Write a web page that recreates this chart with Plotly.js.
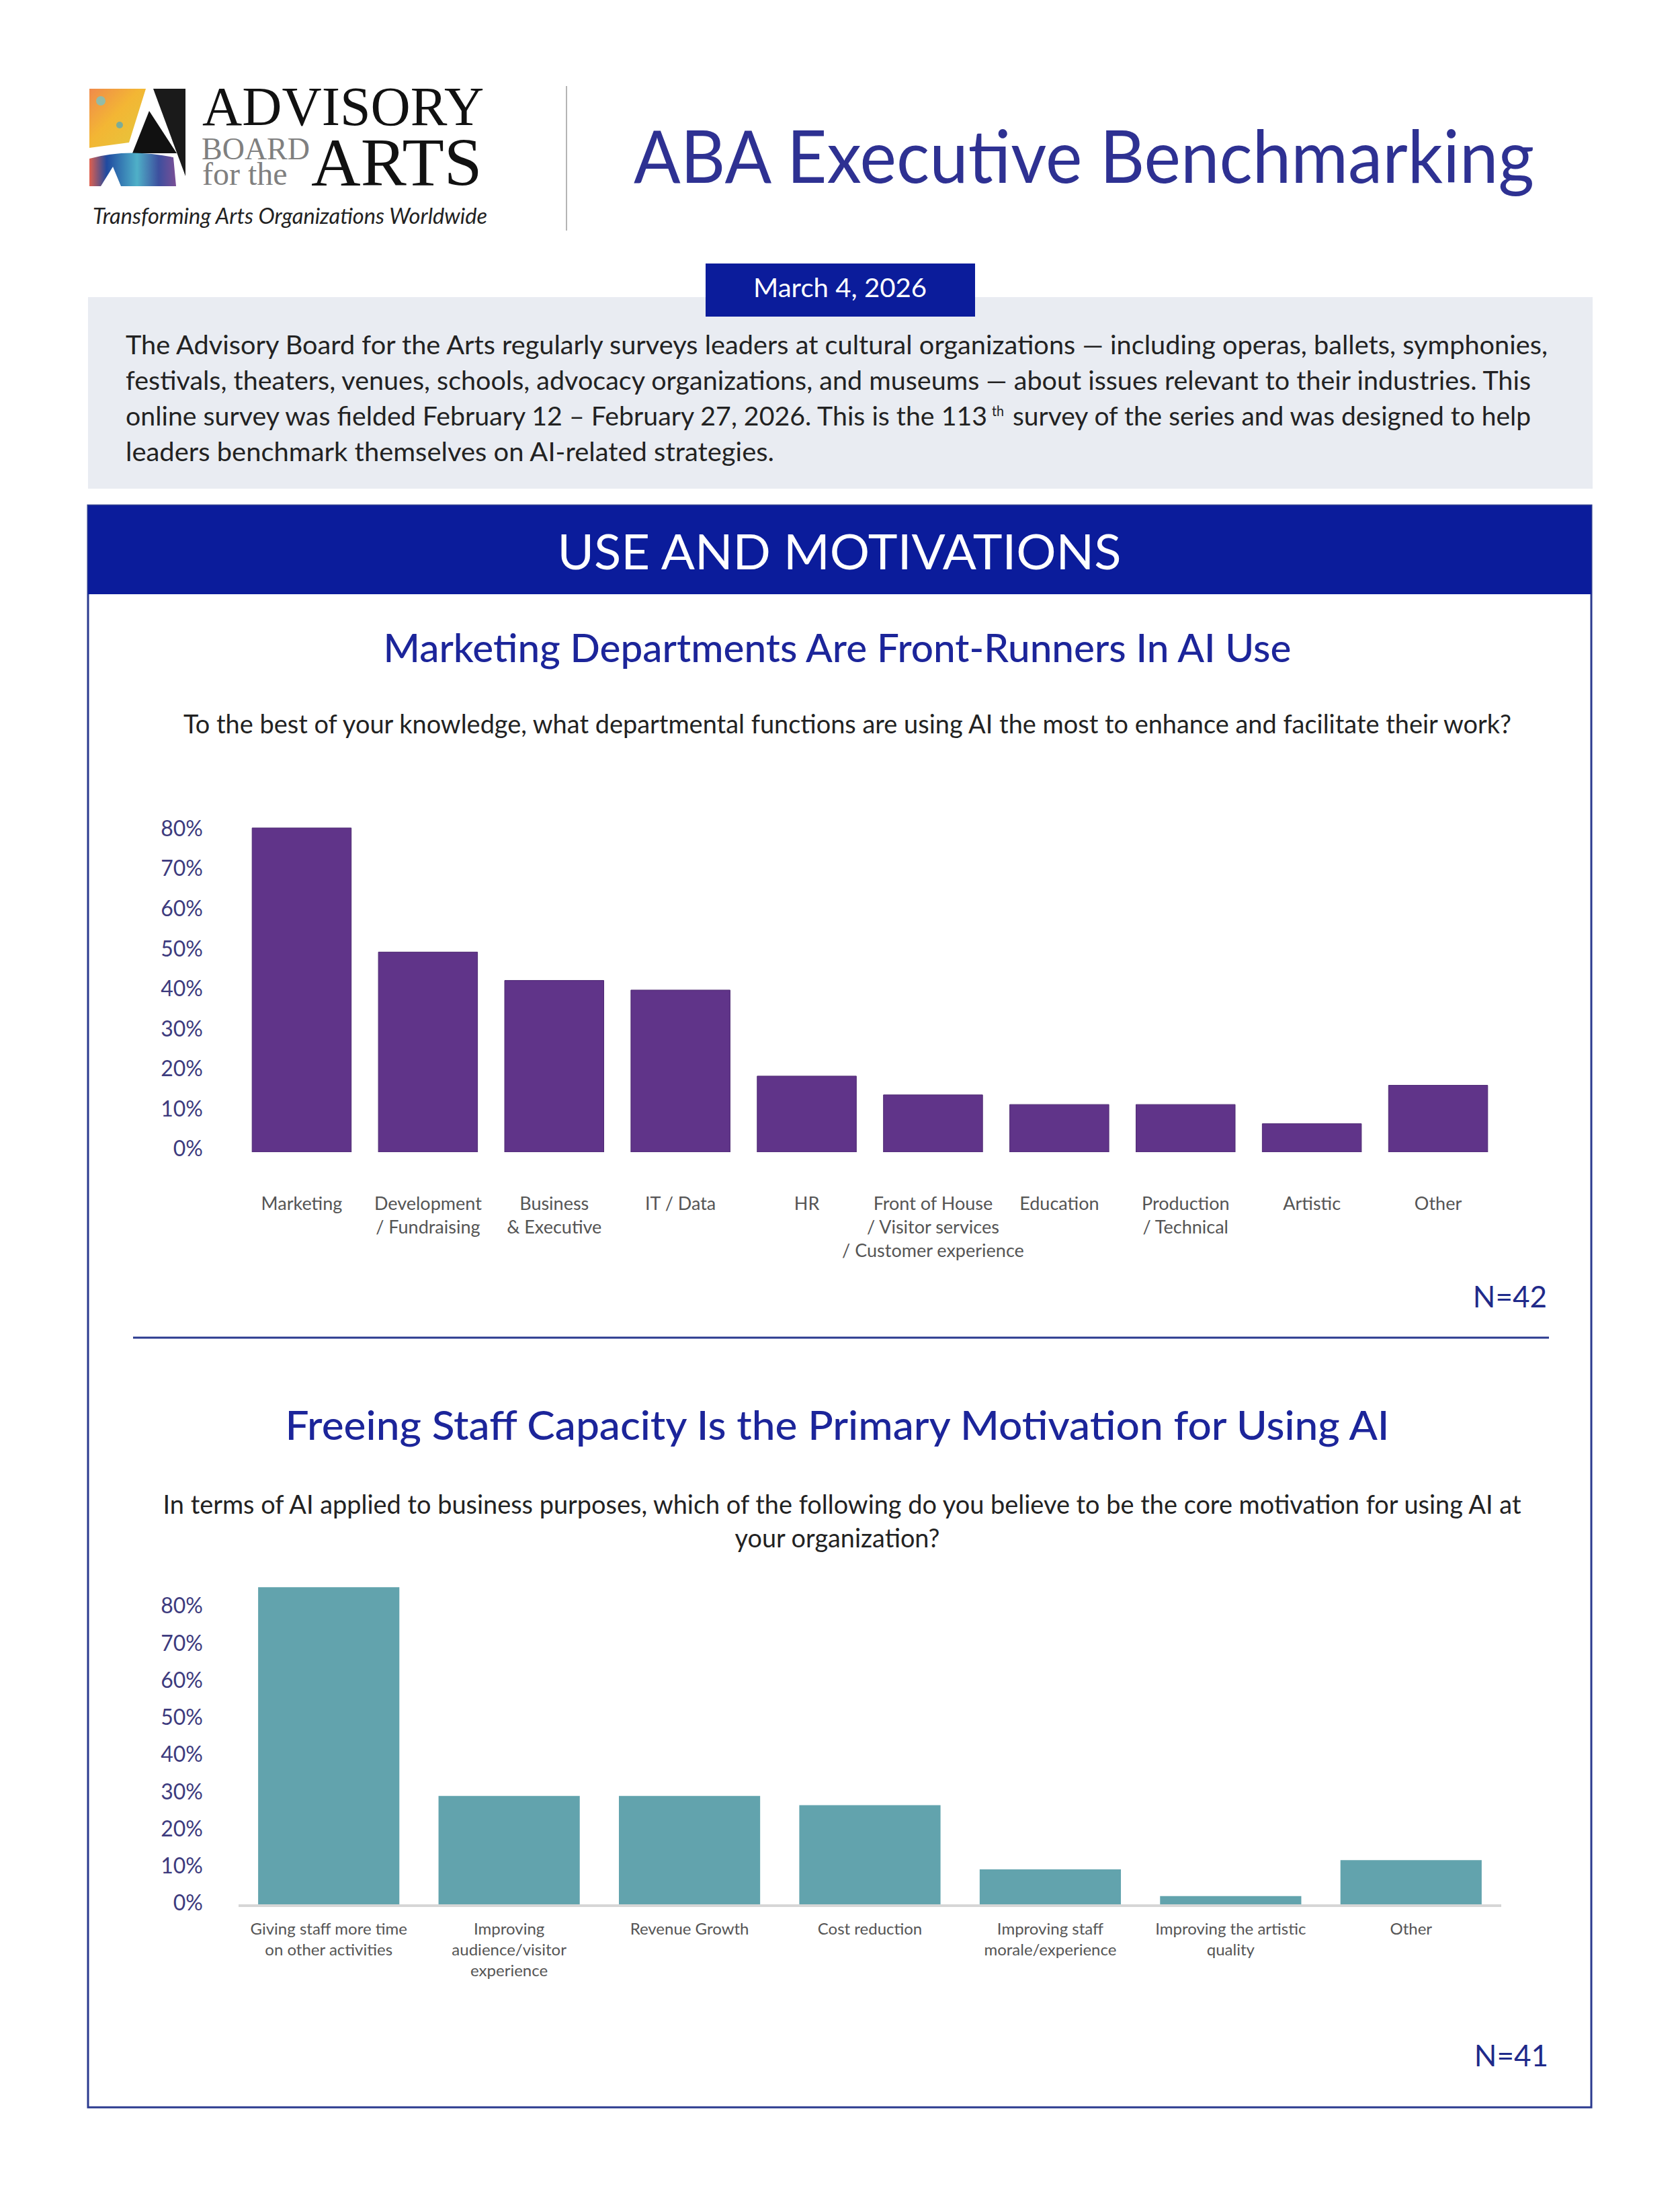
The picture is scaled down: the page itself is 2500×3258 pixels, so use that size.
<!DOCTYPE html>
<html>
<head>
<meta charset="utf-8">
<script src="https://cdn.plot.ly/plotly-3.0.1.min.js"></script>
<style>
  html, body { margin: 0; padding: 0; background: #ffffff; }
  #page { position: relative; width: 2500px; height: 3258px; background: #ffffff; overflow: hidden; }
  #deco { position: absolute; left: 0; top: 0; }
  .chart { position: absolute; left: 0; width: 2500px; }
  #chart1 { top: 1150px; height: 750px; }
  #chart2 { top: 2330px; height: 650px; }
</style>
</head>
<body>
<div id="page">
<svg id="deco" width="2500" height="3258" xmlns="http://www.w3.org/2000/svg">
  <defs>
    <linearGradient id="gTop" x1="0" y1="0" x2="1" y2="1">
      <stop offset="0" stop-color="#f08a4b"/>
      <stop offset="0.45" stop-color="#f3b634"/>
      <stop offset="0.8" stop-color="#e9c23a"/>
      <stop offset="1" stop-color="#d9653f"/>
    </linearGradient>
    <linearGradient id="gBot" x1="0" y1="0" x2="1" y2="0">
      <stop offset="0" stop-color="#e0604e"/>
      <stop offset="0.2" stop-color="#1f4aa0"/>
      <stop offset="0.55" stop-color="#4fb0c8"/>
      <stop offset="0.8" stop-color="#3d4f9e"/>
      <stop offset="1" stop-color="#7a4f96"/>
    </linearGradient>
  </defs>
  <!-- logo graphic -->
  <polygon points="133,132 217,132 192,212 133,220" fill="url(#gTop)"/>
  <circle cx="150" cy="150" r="7" fill="#7cc3c0" opacity="0.8"/>
  <circle cx="178" cy="186" r="5" fill="#5fa9b0" opacity="0.8"/>
  <polygon points="222,165 197,228 263,228" fill="#111111"/>
  <polygon points="228,132 276,132 276,262" fill="#1a1a1a"/>
  <path d="M133,236 Q190,220 258,234 L262,277 L133,277 Z" fill="url(#gBot)"/>
  <path d="M150,277 L168,248 L180,277 Z" fill="#ffffff"/>
  <text font-family="'Liberation Serif', 'DejaVu Serif', serif" fill="#111"><tspan x="301" y="186" font-size="82">ADVISORY</tspan><tspan x="300" y="237" font-size="46" fill="#808080">BOARD</tspan><tspan x="301" y="275" font-size="48" fill="#808080">for the</tspan><tspan x="463" y="276" font-size="102">ARTS</tspan></text>
  <text x="138" y="333" font-family="Lato, 'Open Sans', sans-serif" font-style="italic" font-size="32" fill="#222" textLength="587" lengthAdjust="spacingAndGlyphs">Transforming Arts Organizations Worldwide</text>
  <line x1="843" y1="128" x2="843" y2="343" stroke="#b5b5b5" stroke-width="2"/>
  <text x="943" y="272" font-family="Lato, 'Open Sans', sans-serif" font-size="108" fill="#2e3192" textLength="1340" lengthAdjust="spacingAndGlyphs">ABA Executive Benchmarking</text>

  <!-- intro box -->
  <rect x="131" y="442" width="2239" height="285" fill="#e9ecf2"/>
  <rect x="1050" y="392" width="401" height="79" fill="#0b1c9b"/>
  <text x="1250" y="442" text-anchor="middle" font-family="Lato, 'Open Sans', sans-serif" font-size="39" fill="#ffffff" textLength="258" lengthAdjust="spacingAndGlyphs">March 4, 2026</text>
  <g font-family="Lato, 'Open Sans', sans-serif" font-size="38" fill="#222">
    <text x="187" y="527" textLength="2116" lengthAdjust="spacingAndGlyphs">The Advisory Board for the Arts regularly surveys leaders at cultural organizations — including operas, ballets, symphonies,</text>
    <text x="187" y="580" textLength="2091" lengthAdjust="spacingAndGlyphs">festivals, theaters, venues, schools, advocacy organizations, and museums — about issues relevant to their industries. This</text>
    <text x="187" y="633" textLength="1282" lengthAdjust="spacingAndGlyphs">online survey was fielded February 12 – February 27, 2026. This is the 113</text>
    <text x="1476" y="619" font-size="21" textLength="18" lengthAdjust="spacingAndGlyphs">th</text>
    <text x="1507" y="633" textLength="771" lengthAdjust="spacingAndGlyphs">survey of the series and was designed to help</text>
    <text x="187" y="686" textLength="965" lengthAdjust="spacingAndGlyphs">leaders benchmark themselves on AI-related strategies.</text>
  </g>

  <!-- main section -->
  <rect x="131" y="752" width="2237" height="2383" fill="none" stroke="#2b3a8f" stroke-width="3"/>
  <rect x="131" y="752" width="2237" height="132" fill="#0b1c9b"/>
  <text x="1249" y="847" text-anchor="middle" font-family="Lato, 'Open Sans', sans-serif" font-size="72" fill="#ffffff" textLength="839" lengthAdjust="spacingAndGlyphs">USE AND MOTIVATIONS</text>

  <text x="1246" y="985" text-anchor="middle" font-family="Lato, 'Open Sans', sans-serif" font-weight="500" font-size="57" fill="#1c259a" textLength="1351" lengthAdjust="spacingAndGlyphs">Marketing Departments Are Front-Runners In AI Use</text>
  <text x="1261" y="1091" text-anchor="middle" font-family="Lato, 'Open Sans', sans-serif" font-size="39" fill="#222" textLength="1976" lengthAdjust="spacingAndGlyphs">To the best of your knowledge, what departmental functions are using AI the most to enhance and facilitate their work?</text>
  <text x="2302" y="1945" text-anchor="end" font-family="Lato, 'Open Sans', sans-serif" font-size="44" fill="#1f2a8a">N=42</text>
  <line x1="198" y1="1990" x2="2305" y2="1990" stroke="#2b3a8f" stroke-width="3"/>

  <text x="1246" y="2142" text-anchor="middle" font-family="Lato, 'Open Sans', sans-serif" font-weight="500" font-size="60" fill="#1c259a" textLength="1643" lengthAdjust="spacingAndGlyphs">Freeing Staff Capacity Is the Primary Motivation for Using AI</text>
  <text x="1253" y="2252" text-anchor="middle" font-family="Lato, 'Open Sans', sans-serif" font-size="39" fill="#222" textLength="2021" lengthAdjust="spacingAndGlyphs">In terms of AI applied to business purposes, which of the following do you believe to be the core motivation for using AI at</text>
  <text x="1246" y="2302" text-anchor="middle" font-family="Lato, 'Open Sans', sans-serif" font-size="39" fill="#222" textLength="305" lengthAdjust="spacingAndGlyphs">your organization?</text>
  <text x="2304" y="3074" text-anchor="end" font-family="Lato, 'Open Sans', sans-serif" font-size="44" fill="#1f2a8a">N=41</text>
</svg>
<div id="chart1" class="chart"></div>
<div id="chart2" class="chart"></div>
</div>
<script>
// ---- Data: chart 1 (departmental functions using AI, N=42) ----
const deptCategories = [
  'Marketing',
  'Development<br>/ Fundraising',
  'Business<br>& Executive',
  'IT / Data',
  'HR',
  'Front of House<br>/ Visitor services<br>/ Customer experience',
  'Education',
  'Production<br>/ Technical',
  'Artistic',
  'Other'
];
const deptValues = [81.0, 50.0, 42.9, 40.5, 19.0, 14.3, 11.9, 11.9, 7.1, 16.7];

// ---- Data: chart 2 (core motivation for using AI, N=41) ----
const motiveCategories = [
  'Giving staff more time<br>on other activities',
  'Improving<br>audience/visitor<br>experience',
  'Revenue Growth',
  'Cost reduction',
  'Improving staff<br>morale/experience',
  'Improving the artistic<br>quality',
  'Other'
];
const motiveValues = [85.4, 29.2, 29.2, 26.7, 9.4, 2.2, 11.9];

// ---- Shared y tick labels ----
const yTickValues = [0, 10, 20, 30, 40, 50, 60, 70, 80];
const yTickLabels = ['0%', '10%', '20%', '30%', '40%', '50%', '60%', '70%', '80%'];

const FONT = "Lato, 'Open Sans', sans-serif";
const config = { displayModeBar: false, staticPlot: true, responsive: false };

Plotly.newPlot('chart1', [{
  type: 'bar',
  x: deptCategories,
  y: deptValues,
  marker: { color: '#603489', line: { color: '#4e2a72', width: 1 } },
  hoverinfo: 'skip'
}], {
  width: 2500, height: 750, autosize: false,
  margin: { l: 355, r: 266, t: 58, b: 186 },
  paper_bgcolor: 'rgba(0,0,0,0)', plot_bgcolor: 'rgba(0,0,0,0)',
  bargap: 0.215,
  showlegend: false,
  font: { family: FONT },
  xaxis: {
    type: 'category', showgrid: false, showline: false, zeroline: false, ticks: '',
    tickfont: { family: FONT, size: 27, color: '#555555' },
    ticklabelstandoff: 58, automargin: false, tickangle: 0
  },
  yaxis: {
    range: [0, 85], showgrid: false, showline: false, zeroline: false, ticks: '',
    tickvals: yTickValues, ticktext: yTickLabels,
    tickfont: { family: FONT, size: 32, color: '#3d3b7e' },
    ticklabelstandoff: 52, ticklabelshift: -5, automargin: false
  }
}, config);

Plotly.newPlot('chart2', [{
  type: 'bar',
  x: motiveCategories,
  y: motiveValues,
  marker: { color: '#62a3ad' },
  hoverinfo: 'skip'
}], {
  width: 2500, height: 650, autosize: false,
  margin: { l: 355, r: 266, t: 17, b: 147 },
  paper_bgcolor: 'rgba(0,0,0,0)', plot_bgcolor: 'rgba(0,0,0,0)',
  bargap: 0.217,
  showlegend: false,
  font: { family: FONT },
  xaxis: {
    type: 'category', showgrid: false, zeroline: false, ticks: '',
    showline: true, linecolor: '#d6d6d6', linewidth: 4,
    tickfont: { family: FONT, size: 24, color: '#555555' },
    ticklabelstandoff: 12, automargin: false, tickangle: 0
  },
  yaxis: {
    range: [0, 88], showgrid: false, showline: false, zeroline: false, ticks: '',
    tickvals: yTickValues, ticktext: yTickLabels,
    tickfont: { family: FONT, size: 32, color: '#3d3b7e' },
    ticklabelstandoff: 52, ticklabelshift: -2, automargin: false
  }
}, config);
</script>
</body>
</html>
